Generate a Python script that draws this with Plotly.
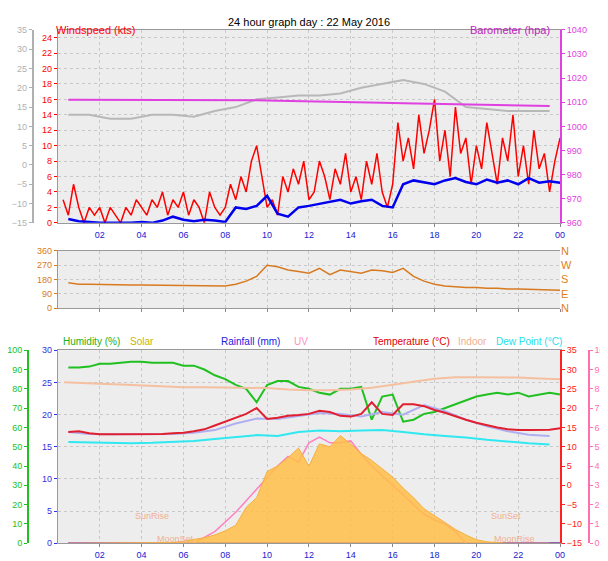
import plotly.graph_objects as go

FONT = "Liberation Sans"

# ---- data ----
t_q = [0.25 * i for i in range(1, 97)]
gust = [3, 1, 5, 2, 0, 2, 1, 2,
        0, 2, 1, 0, 2, 1, 3, 2,
        1, 3, 2, 4, 1, 3, 2, 4,
        1, 3, 2, 0, 4, 2, 1, 2,
        5, 3, 6, 4, 8, 10, 6, 2,
        3, 1, 6, 4, 7, 5, 8, 3,
        4, 8, 6, 3, 7, 5, 9, 4,
        6, 3, 8, 5, 9, 4, 2, 5,
        13, 8, 11, 7, 14, 9, 12, 16,
        8, 12, 6, 15, 9, 11, 5, 10,
        7, 13, 9, 5, 11, 8, 14, 6,
        10, 5, 12, 7, 9, 4, 8, 11]

t_h = [0.5 * i for i in range(1, 49)]
avg_wind = [0.5, 0.2, 0.1, 0, 0, 0, 0, 0.1, 0, 0.3, 0.8, 0.4, 0.2, 0.4, 0.3, 0.1,
            2, 1.8, 2.2, 3.5, 1.2, 0.8, 2, 2.2,
            2.5, 2.8, 3, 2.5, 2.8, 3, 2.2, 2,
            5, 5.5, 5.2, 5, 5.5, 5.8, 5.3, 5,
            5.6, 5.2, 5.5, 5, 5.8, 5.2, 5.4, 5.2]

t_hr = [i + 0.5 for i in range(24)]
gray_temp = [13, 13, 12, 12, 13, 13, 12.5, 14, 15, 17, 17.5, 18, 18, 18.5, 20, 21,
             22, 21, 19, 15, 14.5, 14, 14, 14]
baro = [1011, 1011, 1010.8, 1010.8, 1011, 1011, 1011, 1011, 1011, 1010.8, 1010.6,
        1010.5, 1010.3, 1010.2, 1010, 1009.8, 1009.6, 1009.4, 1009.2, 1009, 1008.8,
        1008.6, 1008.5, 1008.4]

wind_dir = [160, 150, 150, 148, 146, 146, 145, 145, 144, 144, 143, 142, 142, 140, 138, 140,
            150, 170, 200, 270,
            260, 240, 230, 220, 250, 210, 240, 230, 220, 240, 235, 225,
            250, 200,
            170, 150, 140, 135, 130, 130, 125, 125, 120, 120, 118, 115, 115, 112]

humidity = [91, 91, 91.5, 93, 93, 93.5, 94, 94, 93.5, 93.5, 93.5, 92, 92, 90, 87, 85,
            82, 80, 73, 82, 84, 84, 81, 80, 78, 77, 80, 80, 81, 64, 76, 77,
            63, 64, 67, 68, 70, 72, 74, 76, 77, 78, 77, 78, 76, 77, 78, 77]
temperature = [13.8, 14, 13.5, 13.2, 13.2, 13.2, 13.2, 13.2, 13.3, 13.3, 13.5, 13.6,
               14, 14.5, 15.5, 16.5, 17.5, 18.5, 20, 17.2, 17.5, 18, 18.2, 18.5,
               19.3, 19, 18, 17.8, 18.5, 21.5, 18.5, 18.2, 21, 21, 20.5, 19.5,
               18.8, 18, 17, 16.2, 15.5, 15, 14.5, 14.3, 14.3, 14.3, 14.4, 14.8]
t_in = [0.3] + list(range(1, 25))
indoor = [26.7, 26.6, 26.3, 26.1, 25.9, 25.6, 25.4, 25.4, 25.3, 25.3, 25.2, 24.8, 24.6,
          24.6, 24.8, 25.3, 26, 26.8, 27.6, 28, 28, 28, 27.9, 27.7, 27.5]
dew_point = [11.2, 11.1, 10.9, 10.9, 11, 11.2, 11.5, 12, 12.5, 13, 12.8, 13.8, 14.2, 14,
             14.2, 14.3, 13.8, 13.2, 12.8, 12.4, 11.8, 11.3, 10.9, 10.6]
apparent = [13.8, 13.3, 13.2, 13.2, 13.2, 13.3, 13.6, 14.3, 16, 17.3, 17.2, 17.9, 18.7,
            18.5, 17.8, 19, 18.3, 20.8, 19.2, 17, 15.3, 14, 13.1, 12.8]
solar = [0] * 10 + [5, 15, 25, 40, 60, 90, 130, 260, 330, 520, 560, 620, 690, 560, 720,
                    700, 780, 720, 650, 600, 540, 480, 400, 330, 250, 200, 150, 100, 60,
                    25, 10, 3, 0, 0, 0, 0, 0, 0]
uv = [0] * 13 + [0.3, 0.6, 1.1, 1.6, 2.2, 2.8, 3.4, 4, 4.5, 4.2, 5.2, 5.5, 5.2, 5.2, 5.3,
                 4.6, 4, 3.5, 3, 2.5, 2, 1.5, 1.2, 1, 0.6, 0, 0, 0, 0, 0, 0, 0, 0, 0]
rain = [0] * 48

hour_ticks = list(range(2, 25, 2))
hour_labels = ["02", "04", "06", "08", "10", "12", "14", "16", "18", "20", "22", "00"]

# ---- figure ----
fig = go.Figure()
fig.add_trace(go.Scatter(x=t_hr, y=gray_temp, yaxis="y2", line=dict(color="#b8b8b8", width=2)))
fig.add_trace(go.Scatter(x=t_hr, y=baro, yaxis="y3", line=dict(color="#e040e0", width=2)))
fig.add_trace(go.Scatter(x=t_q, y=gust, line=dict(color="#ff0000", width=1.5)))
fig.add_trace(go.Scatter(x=t_h, y=avg_wind, line=dict(color="#0000ee", width=2.5)))

fig.add_trace(go.Scatter(x=t_h, y=wind_dir, xaxis="x2", yaxis="y4", line=dict(color="#d87a20", width=1.5)))

fig.add_trace(go.Scatter(x=t_h, y=solar, xaxis="x3", yaxis="y10", fill="tozeroy",
                         fillcolor="rgba(255,190,70,0.85)", line=dict(color="#f5b040", width=1)))
fig.add_trace(go.Scatter(x=t_h, y=uv, xaxis="x3", yaxis="y9", line=dict(color="#ff80c0", width=1.5)))
fig.add_trace(go.Scatter(x=t_h, y=rain, xaxis="x3", yaxis="y6", line=dict(color="#6040e0", width=2.5)))
fig.add_trace(go.Scatter(x=t_in, y=indoor, xaxis="x3", yaxis="y8", line=dict(color="#f4c0a0", width=2)))
fig.add_trace(go.Scatter(x=t_hr, y=apparent, xaxis="x3", yaxis="y8", line=dict(color="#b0b0f0", width=2)))
fig.add_trace(go.Scatter(x=t_hr, y=dew_point, xaxis="x3", yaxis="y8", line=dict(color="#30e8f0", width=2)))
fig.add_trace(go.Scatter(x=t_h, y=temperature, xaxis="x3", yaxis="y8", line=dict(color="#e02030", width=2)))
fig.add_trace(go.Scatter(x=t_h, y=humidity, xaxis="x3", yaxis="y7", line=dict(color="#20c020", width=2)))

XD = [0.082, 0.908]
grid = dict(showgrid=True, gridcolor="#c8c8c8", griddash="dot")


def xax(domain_anchor, labels):
    return dict(domain=XD, anchor=domain_anchor, range=[0, 24], tickvals=hour_ticks,
                ticktext=hour_labels, showticklabels=labels, tickfont=dict(color="#2020d0", size=9),
                ticks="outside", ticklen=3, tickcolor="#888", showline=True, linecolor="#999",
                mirror=True, zeroline=False, automargin=False, **grid)


def yax(color, rng, dtick, **kw):
    d = dict(range=rng, dtick=dtick, tickfont=dict(color=color, size=9), ticks="outside",
             ticklen=3, tickcolor=color, showline=True, linecolor=color, linewidth=2,
             zeroline=False, showgrid=False, automargin=False)
    d.update(kw)
    return d


TOP = [0.617, 0.961]
MID = [0.465, 0.567]
BOT = [0.046, 0.39]

fig.update_layout(
    width=608, height=561, margin=dict(l=0, r=0, t=0, b=0, autoexpand=False),
    paper_bgcolor="white", plot_bgcolor="#ededed", showlegend=False,
    font=dict(family=FONT, size=9),
    xaxis=xax("y", True), xaxis2=xax("y4", False), xaxis3=xax("y6", True),
    yaxis=dict(yax("#ff0000", [0, 25], 2, domain=TOP, anchor="x", linewidth=1, linecolor="#999"), **grid),
    yaxis2=yax("#b0b0b0", [-15, 35], 5, overlaying="y", anchor="free", position=0.041),
    yaxis3=yax("#e040e0", [960, 1040], 10, overlaying="y", side="right", anchor="x"),
    yaxis4=dict(yax("#d87a20", [0, 360], 90, domain=MID, anchor="x2", linewidth=1, linecolor="#999"), **grid),
    yaxis5=yax("#d87a20", [0, 360], None, overlaying="y4", side="right", anchor="x2",
               tickvals=[0, 90, 180, 270, 360], ticktext=["N", "E", "S", "W", "N"],
               tickfont=dict(color="#e08020", size=11), showline=False, ticks=""),
    yaxis6=dict(yax("#3030e0", [0, 30], 5, domain=BOT, anchor="x3", linewidth=1, linecolor="#999"), **grid),
    yaxis7=yax("#20c020", [0, 100], 10, overlaying="y6", anchor="free", position=0.033),
    yaxis8=yax("#ff2020", [-15, 35], 5, overlaying="y6", side="right", anchor="x3"),
    yaxis9=yax("#ff70b0", [0, 10], 1, overlaying="y6", side="right", anchor="free", position=0.955),
    yaxis10=dict(overlaying="y6", range=[0, 1400], visible=False),
)
# invisible trace so the compass axis is drawn
fig.add_trace(go.Scatter(x=[0], y=[0], xaxis="x2", yaxis="y5", mode="markers", marker=dict(opacity=0)))

# header texts placed in time coordinates of the panel below them
ann = [
    ("24 hour graph day : 22 May 2016", 12, 0.99, "black", 11),
    ("Windspeed (kts)", 1.8, 0.975, "#ff0000", 11),
    ("Barometer (hpa)", 21.6, 0.975, "#c020c0", 11),
    ("Humidity (%)", 1.6, 0.406, "#20b020", 10),
    ("Solar", 4.0, 0.406, "#c8b400", 10),
    ("Rainfall (mm)", 9.2, 0.406, "#2020e0", 10),
    ("UV", 11.6, 0.406, "#ff90c0", 10),
    ("Temperature (°C)", 16.9, 0.406, "#e00000", 10),
    ("Indoor", 19.8, 0.406, "#f0b090", 10),
    ("Dew Point (°C)", 22.5, 0.406, "#20e0f0", 10),
]
for text, x, y, c, s in ann:
    fig.add_annotation(text=text, x=x, y=y, xref="x3", yref="paper", showarrow=False,
                       font=dict(color=c, size=s, family=FONT))

for text, x, y in [("SunRise", 4.5, 4.2), ("MoonSet", 5.6, 0.6), ("SunSet", 21.4, 4.2), ("MoonRise", 21.8, 0.6)]:
    fig.add_annotation(text=text, x=x, y=y, xref="x3", yref="y6", showarrow=False,
                       font=dict(color="#f0b090", size=9))
fig.add_annotation(text="SunSet", x=21.25, y=-1.2, xref="x3", yref="y6", showarrow=False,
                   font=dict(color="#2020d0", size=9))

fig.write_html("out.html")
